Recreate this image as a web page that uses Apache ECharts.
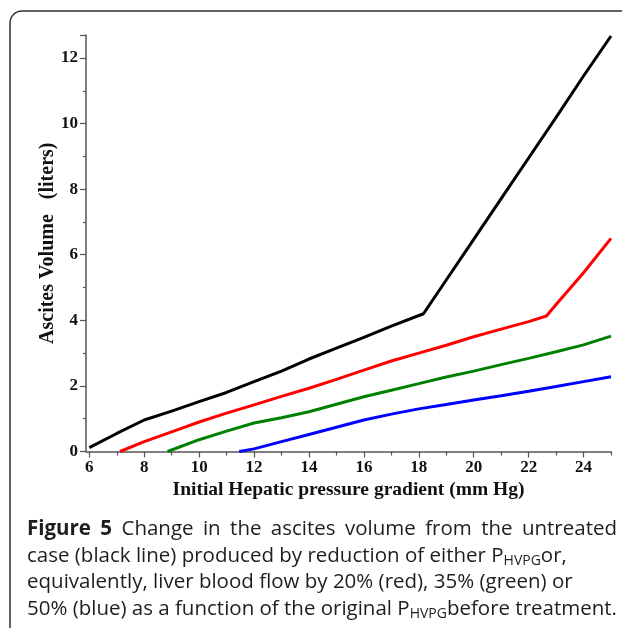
<!DOCTYPE html>
<html>
<head>
<meta charset="utf-8">
<script src="https://cdn.jsdelivr.net/npm/echarts@6/dist/echarts.min.js"></script>
<style>
html,body{margin:0;padding:0;background:#fff;}
#chart{width:622px;height:628px;}
</style>
</head>
<body>
<div id="chart"></div>
<script>
// ---- data ----
var blackX = [6, 7, 8, 9, 10, 11, 12, 13, 14, 15, 16, 17, 18.17, 19, 20, 21, 22, 23, 24, 25];
var blackY = [0.12, 0.55, 0.96, 1.23, 1.52, 1.8, 2.13, 2.45, 2.82, 3.15, 3.48, 3.82, 4.2, 5.23, 6.47, 7.71, 8.95, 10.19, 11.45, 12.67];
var redX = [7.12, 8, 9, 10, 11, 12, 13, 14, 15, 16, 17, 18, 19, 20, 21, 22, 22.65, 23, 24, 25];
var redY = [0, 0.3, 0.6, 0.9, 1.17, 1.42, 1.68, 1.93, 2.2, 2.48, 2.76, 3.0, 3.24, 3.5, 3.73, 3.96, 4.13, 4.48, 5.45, 6.5];
var greenX = [8.85, 10, 11, 12, 13, 14, 15, 16, 17, 18, 19, 20, 21, 22, 23, 24, 25];
var greenY = [0, 0.36, 0.62, 0.87, 1.03, 1.21, 1.44, 1.67, 1.87, 2.07, 2.27, 2.45, 2.65, 2.84, 3.04, 3.25, 3.52];
var blueX = [11.46, 12, 13, 14, 15, 16, 17, 18, 19, 20, 21, 22, 23, 24, 25];
var blueY = [0, 0.08, 0.3, 0.52, 0.74, 0.96, 1.14, 1.3, 1.43, 1.57, 1.7, 1.84, 1.98, 2.13, 2.28];
var xMajorTicks = [6, 8, 10, 12, 14, 16, 18, 20, 22, 24];
var xMinorTicks = [7, 9, 11, 13, 15, 17, 19, 21, 23, 25];
var xTitle = 'Initial Hepatic pressure gradient (mm Hg)';
var yTitle = 'Ascites Volume   (liters)';

// caption lines: each word is a list of [styleKey, text] segments
var captionLines = [
  {justify:true, words:[[['b','Figure']],[['b','5']],[['n','Change']],[['n','in']],[['n','the']],[['n','ascites']],[['n','volume']],[['n','from']],[['n','the']],[['n','untreated']]]},
  {justify:false, words:[[['n','case']],[['n','(black']],[['n','line)']],[['n','produced']],[['n','by']],[['n','reduction']],[['n','of']],[['n','either']],[['n','P'],['s','HVPG'],['n','or,']]]},
  {justify:false, words:[[['n','equivalently,']],[['n','liver']],[['n','blood']],[['n','flow']],[['n','by']],[['n','20%']],[['n','(red),']],[['n','35%']],[['n','(green)']],[['n','or']]]},
  {justify:true, words:[[['n','50%']],[['n','(blue)']],[['n','as']],[['n','a']],[['n','function']],[['n','of']],[['n','the']],[['n','original']],[['n','P'],['s','HVPG'],['n','before']],[['n','treatment.']]]}
];

function pairs(xs, ys){ return xs.map(function(x,i){ return [x, ys[i]]; }); }

var chart = echarts.init(document.getElementById('chart'), null, {renderer:'canvas'});
var labelFont = {fontFamily:'Liberation Serif', fontWeight:'bold', fontSize:17, color:'#111'};
var axisLineStyle = {color:'#555', width:1.5};
var capFont = 'Open Sans';
var capSize = 20.5;
var subSize = 14;
var capColor = '#1e1e1e';
var capStyles = {
  b:{fontFamily:capFont, fontWeight:'bold', fontSize:capSize, fill:capColor, lineHeight:24, verticalAlign:'middle'},
  n:{fontFamily:capFont, fontSize:capSize, fill:capColor, lineHeight:24, verticalAlign:'middle'},
  s:{fontFamily:capFont, fontSize:subSize, fill:capColor, lineHeight:14, verticalAlign:'bottom'}
};
var ctx = document.createElement('canvas').getContext('2d');
function segWidth(seg){
  var st = capStyles[seg[0]];
  ctx.font = (st.fontWeight === 'bold' ? 'bold ' : '') + st.fontSize + 'px "' + capFont + '"';
  return ctx.measureText(seg[1]).width;
}
function captionGraphics(){
  var out = [];
  var x0 = 27, x1 = 617, ys = [529, 556, 582, 609];
  var spaceW = segWidth(['n',' ']);
  captionLines.forEach(function(ln, li){
    var widths = ln.words.map(function(w){ return w.reduce(function(a,s){ return a + segWidth(s); }, 0); });
    var total = widths.reduce(function(a,b){ return a+b; }, 0);
    var gap = ln.justify ? Math.max(spaceW * 0.8, (x1 - x0 - total) / (ln.words.length - 1)) : spaceW;
    var x = x0;
    ln.words.forEach(function(w, wi){
      out.push({type:'text', x:x, y:ys[li], silent:true, style:{
        text: w.map(function(s){ return '{' + s[0] + '|' + s[1] + '}'; }).join(''),
        rich: capStyles, align:'left', verticalAlign:'middle'}});
      x += widths[wi] + gap;
    });
  });
  return out;
}

function line(data, color){
  return {type:'line', data:data, showSymbol:false, symbol:'none', xAxisIndex:0, yAxisIndex:0,
    lineStyle:{color:color, width:3}, itemStyle:{color:color}, silent:true, animation:false};
}

var option = {
  animation:false,
  grid:{left:86, right:11, top:35, bottom:176.5, containLabel:false},
  xAxis:[{
    type:'value', min:5.88, max:25, position:'bottom',
    axisLine:{show:true, onZero:false, lineStyle:axisLineStyle},
    axisTick:{show:true, customValues:xMajorTicks, length:6, lineStyle:{color:'#555', width:1.2}},
    axisLabel:Object.assign({customValues:xMajorTicks, margin:8}, labelFont),
    splitLine:{show:false},
    name:xTitle, nameLocation:'middle', nameGap:28, nameMoveOverlap:false,
    nameTextStyle:{fontFamily:'Liberation Serif', fontWeight:'bold', fontSize:19.5, color:'#111'}
  },{
    type:'value', min:5.88, max:25, position:'bottom',
    axisLine:{show:false},
    axisTick:{show:true, customValues:xMinorTicks, length:4, lineStyle:{color:'#555', width:1.2}},
    axisLabel:{show:false},
    splitLine:{show:false}
  }],
  yAxis:{
    type:'value', min:0, max:12.7, interval:2,
    axisLine:{show:true, onZero:false, lineStyle:axisLineStyle},
    axisTick:{show:true, length:6, lineStyle:{color:'#555', width:1.2}},
    minorTick:{show:true, splitNumber:2, length:3, lineStyle:{color:'#555', width:1.2}},
    axisLabel:Object.assign({margin:8, showMaxLabel:false}, labelFont),
    splitLine:{show:false},
    name:yTitle, nameLocation:'middle', nameGap:28, nameRotate:90, nameMoveOverlap:false,
    nameTextStyle:{fontFamily:'Liberation Serif', fontWeight:'bold', fontSize:20, color:'#111'}
  },
  series:[
    line(pairs(blackX, blackY), '#000000'),
    line(pairs(redX, redY), '#ff0000'),
    line(pairs(greenX, greenY), '#008000'),
    line(pairs(blueX, blueY), '#0000ff')
  ],
  graphic:[
    {type:'rect', shape:{x:10, y:11, width:700, height:700, r:12},
     style:{fill:'none', stroke:'#333', lineWidth:1.5}, silent:true}
  ].concat(captionGraphics())
};
chart.setOption(option);
</script>
</body>
</html>
